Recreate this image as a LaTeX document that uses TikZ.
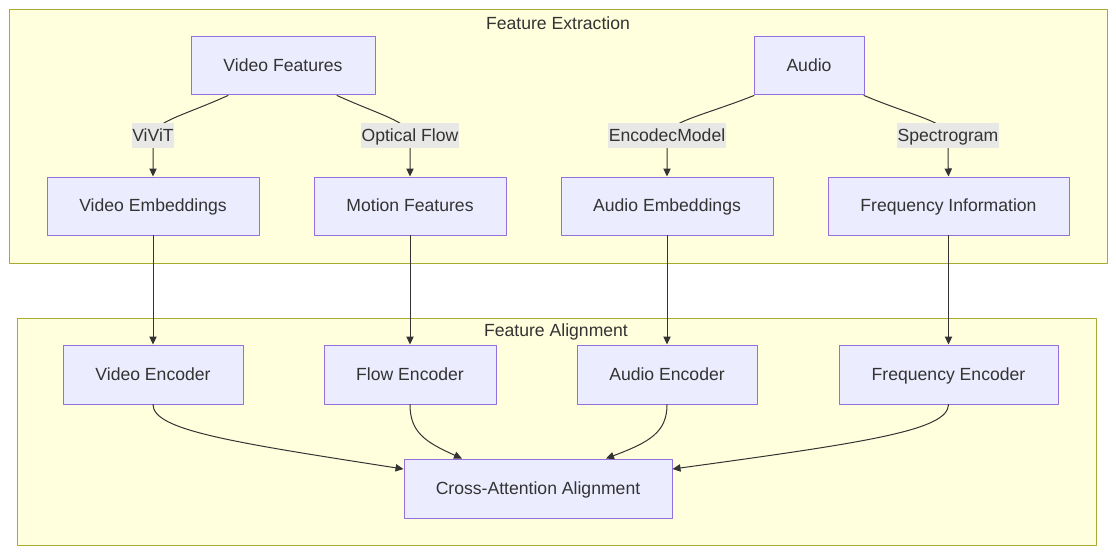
\documentclass[tikz,border=0pt]{standalone}
\usepackage{fontspec}
\setmainfont{Liberation Sans}
\usetikzlibrary{arrows.meta}

\definecolor{clfill}{HTML}{FFFFDE}
\definecolor{cldraw}{HTML}{AAAA33}
\definecolor{nfill}{HTML}{ECECFF}
\definecolor{ndraw}{HTML}{9370DB}
\definecolor{txt}{HTML}{333333}
\definecolor{lblbg}{HTML}{E8E8E6}

\begin{document}
\begin{tikzpicture}[x=0.75pt, y=-0.75pt, line cap=round, line join=round,
    box/.style={draw=ndraw, fill=nfill, line width=0.75pt, text=txt, font=\fontsize{13.2}{15}\selectfont, text height=11.5pt, text depth=2.6pt, minimum height=43.5pt, inner sep=0pt},
    lbl/.style={fill=lblbg, text=txt, font=\fontsize{13.2}{15}\selectfont, text height=11pt, text depth=2.6pt, minimum height=18.75pt, inner xsep=0.5pt, inner ysep=0pt},
    edge/.style={draw=txt, line width=0.75pt, -{Triangle[length=6pt, width=5.5pt]}},
    cluster/.style={draw=cldraw, fill=clfill, line width=0.75pt}]

                \useasboundingbox[fill=white] (0,0) rectangle (1116,556);

                \draw[cluster] (9,10) rectangle (1107,263);
                \draw[cluster] (17,318) rectangle (1096,545);
                \node[text=txt, font=\fontsize{13.2}{15}\selectfont] (t1) at (558,23) {Feature Extraction};
                \node[text=txt, font=\fontsize{13.2}{15}\selectfont] (t2) at (556,332) {Feature Alignment};

                \node[box, minimum width=138pt] (vf) at (283,66) {Video Features};
                \node[box, minimum width=82.5pt] (au) at (809,66) {Audio};

                \node[box, minimum width=159pt] (ve) at (153,206) {Video Embeddings};
                \node[box, minimum width=144pt] (mf) at (410,206) {Motion Features};
                \node[box, minimum width=159pt] (ae) at (667,206) {Audio Embeddings};
                \node[box, minimum width=180.75pt] (fi) at (948.5,206) {Frequency Information};

                \node[box, minimum width=135pt, minimum height=44.25pt] (venc) at (153,374.5) {Video Encoder};
                \node[box, minimum width=129pt, minimum height=44.25pt] (fenc) at (410,374.5) {Flow Encoder};
                \node[box, minimum width=135pt, minimum height=44.25pt] (aenc) at (667,374.5) {Audio Encoder};
                \node[box, minimum width=164.25pt, minimum height=44.25pt] (qenc) at (948.5,374.5) {Frequency Encoder};

                \node[box, minimum width=201pt, minimum height=44.25pt] (ca) at (538,488.5) {Cross-Attention Alignment};

                \draw[edge] ([xshift=-41.25pt]vf.south) .. controls (185,115) and (153,122) .. (153,136) node[lbl] (l1) {ViViT} .. controls (153,152) and (153,160) .. (ve.north);
                \draw[edge] ([xshift=40.5pt]vf.south) .. controls (380,115) and (410,122) .. (410,136) node[lbl] (l2) {Optical Flow} .. controls (410,152) and (410,160) .. (mf.north);
                \draw[edge] ([xshift=-41.25pt]au.south) .. controls (705,115) and (667,122) .. (667,136) node[lbl] (l3) {EncodecModel} .. controls (667,152) and (667,160) .. (ae.north);
                \draw[edge] ([xshift=41.25pt]au.south) .. controls (910,115) and (948,122) .. (948,136) node[lbl] (l4) {Spectrogram} .. controls (948,152) and (948,160) .. (fi.north);

                \draw[edge] (ve.south) -- (venc.north);
                \draw[edge] (mf.south) -- (fenc.north);
                \draw[edge] (ae.south) -- (aenc.north);
                \draw[edge] (fi.south) -- (qenc.north);

                \draw[edge] (venc.south) .. controls (153,430) and (230,442) .. ([yshift=14.6pt]ca.west);
                \draw[edge] (fenc.south) .. controls (410,432) and (425,442) .. ([xshift=-57pt]ca.north);
                \draw[edge] (aenc.south) .. controls (667,432) and (650,442) .. ([xshift=51pt]ca.north);
                \draw[edge] (qenc.south) .. controls (948,430) and (870,442) .. ([yshift=14.6pt]ca.east);

\end{tikzpicture}
\end{document}
